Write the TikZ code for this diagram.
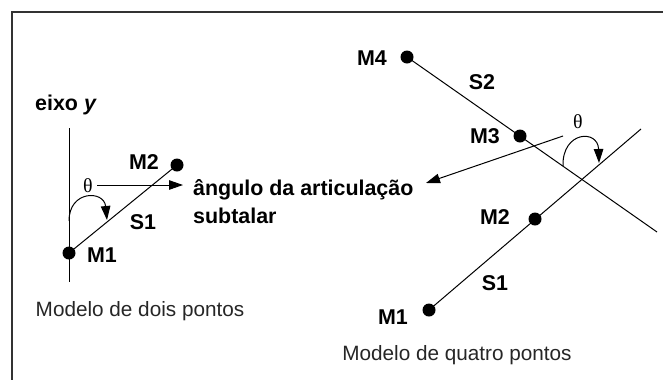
\documentclass[tikz,border=0pt]{standalone}
\usepackage{fontspec}
\setmainfont{Liberation Sans}
\newfontfamily\thetafont{Liberation Serif}
\usetikzlibrary{arrows.meta}
\tikzset{
  dot/.style={circle,fill=black,inner sep=0pt,minimum size=13bp},
  lbl/.style={font=\fontsize{21.5}{28}\selectfont\bfseries,inner sep=0pt},
  captext/.style={font=\fontsize{20.8}{24}\selectfont,text=black!85,inner sep=0pt},
  thlbl/.style={font=\fontsize{20}{24}\selectfont\thetafont,inner sep=0pt},
  seg/.style={line width=1bp},
  arr/.style={line width=1bp,-{Triangle[length=14bp,width=9.5bp]}},
  framestyle/.style={line width=1.6bp,draw=black!80}
}
\begin{document}
\begin{tikzpicture}[x=1bp,y=-1bp]
\useasboundingbox (0,0) rectangle (663,380);
\fill[white] (0,0) rectangle (663,380);
% frame
\coordinate (fTR) at (663,12);
\coordinate (fTL) at (12,12);
\coordinate (fBL) at (12,380);
\draw[framestyle] (fTR) -- (fTL) -- (fBL);

% ---------- left: two-point model ----------
\coordinate (axTop) at (69,128);
\coordinate (axBot) at (69,282);
\draw[seg] (axTop) -- (axBot);
\node[dot] (lM1) at (69,253) {};
\node[dot] (lM2) at (177,165) {};
\draw[seg] (lM1.center) -- (lM2.center);
\node[lbl] (eixo) at (66,105) {eixo \textit{y}};
\node[lbl] (lM1t) at (102,255) {M1};
\node[lbl] (lM2t) at (144,162) {M2};
\node[lbl] (lS1t) at (143,222) {S1};
\node[thlbl] (lth) at (88,186) {θ};
\coordinate (lArrS) at (97,185);
\coordinate (lArrE) at (183,185);
\draw[arr] (lArrS) -- (lArrE);
\coordinate (lCurS) at (69,221);
\coordinate (lCurE) at (107,220);
\draw[arr] (lCurS) .. controls (69,190) and (104,190) .. (lCurE);
\node[lbl,align=left,anchor=west] (ang) at (193,201.5) {ângulo da articulação\\subtalar};
\node[captext] (cap2) at (140,311) {Modelo de dois pontos};

% ---------- right: four-point model ----------
\node[dot] (rM4) at (407,57) {};
\node[dot] (rM3) at (520,136) {};
\coordinate (S2end) at (657,232);
\draw[seg] (rM4.center) -- (S2end);
\node[dot] (rM1) at (429,310) {};
\node[dot] (rM2) at (535,219) {};
\coordinate (S1end) at (641,129);
\draw[seg] (rM1.center) -- (S1end);
\node[lbl] (rM4t) at (372,58) {M4};
\node[lbl] (rS2t) at (482,82) {S2};
\node[lbl] (rM3t) at (485,136) {M3};
\node[lbl] (rM2t) at (495,217) {M2};
\node[lbl] (rS1t) at (495,283) {S1};
\node[lbl] (rM1t) at (393,317) {M1};
\node[thlbl] (rth) at (578,122) {θ};
\coordinate (rArrS) at (563,136);
\coordinate (rArrE) at (426,183);
\draw[arr] (rArrS) -- (rArrE);
\coordinate (rCurS) at (563,166);
\coordinate (rCurE) at (599,163);
\draw[arr] (rCurS) .. controls (562,131) and (598,129) .. (rCurE);
\node[captext] (cap4) at (457,355) {Modelo de quatro pontos};
\end{tikzpicture}
\end{document}
